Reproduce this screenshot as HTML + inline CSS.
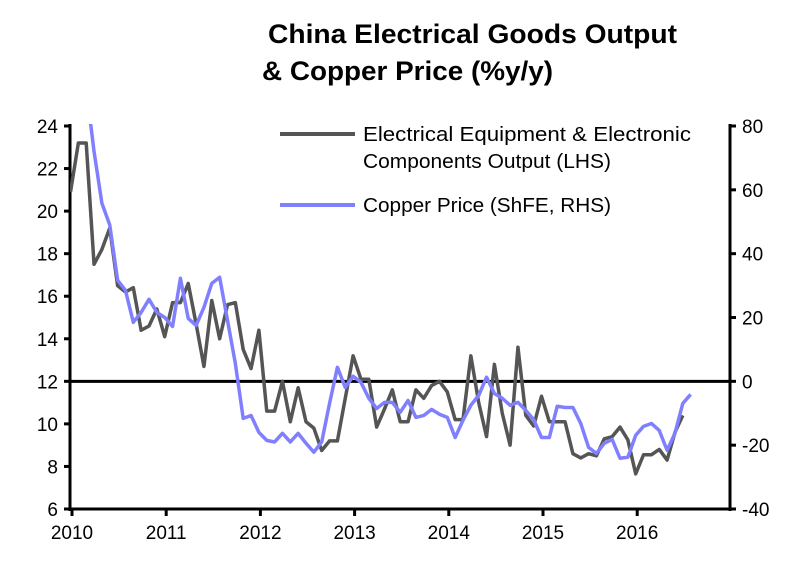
<!DOCTYPE html>
<html><head><meta charset="utf-8"><style>
body{margin:0;background:#fff;width:811px;height:575px;overflow:hidden}
text{font-family:"Liberation Sans",sans-serif}
</style></head><body>
<svg id="chart" width="811" height="575" xmlns="http://www.w3.org/2000/svg">
<text x="268" y="43" font-size="27" font-weight="bold" fill="#000" textLength="409" lengthAdjust="spacingAndGlyphs">China Electrical Goods Output</text>
<text x="262" y="80" font-size="27" font-weight="bold" fill="#000" textLength="291" lengthAdjust="spacingAndGlyphs">&amp; Copper Price (%y/y)</text>
<defs><clipPath id="plotclip"><rect x="70" y="124" width="662" height="387"/></clipPath></defs>
<g id="axes"></g>
<g id="series" clip-path="url(#plotclip)"></g>
<g>
<line x1="280" y1="134" x2="355" y2="134" stroke="#555" stroke-width="4"/>
<text x="363" y="141" font-size="20" textLength="328" lengthAdjust="spacingAndGlyphs">Electrical Equipment &amp; Electronic</text>
<text x="363" y="168" font-size="20" textLength="248" lengthAdjust="spacingAndGlyphs">Components Output (LHS)</text>
<line x1="280" y1="205" x2="355" y2="205" stroke="#8080ff" stroke-width="4"/>
<text x="363" y="212" font-size="20" textLength="248" lengthAdjust="spacingAndGlyphs">Copper Price (ShFE, RHS)</text>
</g>
</svg>
<script>
const years = ["2010","2011","2012","2013","2014","2015","2016"];
const leftTicks = [6,8,10,12,14,16,18,20,22,24];
const rightTicks = [-40,-20,0,20,40,60,80];
const electrical = [20.9,23.2,23.2,17.5,18.2,19.2,16.5,16.2,16.4,14.4,14.6,15.4,14.1,15.7,15.7,16.6,14.7,12.7,15.8,14.0,15.6,15.7,13.5,12.6,14.4,10.6,10.6,12.0,10.1,11.7,10.1,9.8,8.75,9.2,9.2,11.2,13.2,12.1,12.1,9.85,10.7,11.6,10.1,10.1,11.6,11.2,11.8,12.0,11.5,10.2,10.2,13.2,11.0,9.4,12.8,10.5,9.0,13.6,10.4,9.9,11.3,10.1,10.1,10.1,8.6,8.4,8.6,8.5,9.3,9.4,9.85,9.25,7.65,8.55,8.55,8.8,8.3,9.6,10.4];
const copper = [140,115,92,72,55.8,49,31.7,28.5,18.5,21.6,25.7,21.6,20,17.2,32.3,19.7,17.5,23.2,30.7,32.6,19.1,5.6,-11.6,-10.7,-16,-18.5,-19,-16.3,-19,-16.3,-19.4,-22.2,-19,-6.9,4.4,-1.9,1.6,-0.3,-5.3,-8.5,-6.6,-6.6,-9.7,-6,-11.3,-10.7,-8.8,-10.3,-11.3,-17.6,-12.2,-7.5,-4.4,1.3,-3.8,-5.3,-7.5,-6.6,-9.1,-12,-17.6,-17.6,-7.8,-8.2,-8.2,-13.2,-20.7,-22.6,-19.4,-18.2,-24.1,-23.8,-16.9,-14.1,-13.2,-15.4,-21.6,-16.3,-6.9,-4.1];
const NS="http://www.w3.org/2000/svg";
const X0=70.5, DX=7.85, TOP=126, BOT=509, L=70, R=730;
const xm=i=>X0+i*DX;
const yl=v=>BOT-(v-6)/(24-6)*(BOT-TOP);
const yr=v=>BOT-(v+40)/120*(BOT-TOP);
function mk(tag,attrs,parent){const e=document.createElementNS(NS,tag);for(const k in attrs)e.setAttribute(k,attrs[k]);parent.appendChild(e);return e;}
const ax=document.getElementById('axes');
let e=mk('line',{x1:L,y1:TOP-2,x2:L,y2:BOT+2,stroke:'#000','stroke-width':3},ax);


e=mk('line',{x1:R,y1:TOP-2,x2:R,y2:BOT+2,stroke:'#000','stroke-width':3},ax);


e=mk('line',{x1:L,y1:BOT,x2:R,y2:BOT,stroke:'#000','stroke-width':3},ax);


e=mk('line',{x1:L,y1:yr(0),x2:R,y2:yr(0),stroke:'#000','stroke-width':3},ax);


leftTicks.forEach(v=>{
 mk('line',{x1:L-6,y1:yl(v),x2:L,y2:yl(v),stroke:'#000','stroke-width':3},ax);
 const t=mk('text',{x:L-12,y:yl(v)+7,'font-size':19,'text-anchor':'end'},ax);t.textContent=v;
 
 
});
rightTicks.forEach(v=>{
 mk('line',{x1:R,y1:yr(v),x2:R+6,y2:yr(v),stroke:'#000','stroke-width':3},ax);
 const t=mk('text',{x:R+12,y:yr(v)+7,'font-size':19},ax);t.textContent=v;
 
 
});
years.forEach((y,i)=>{
 const x=72+i*94.2;
 mk('line',{x1:x,y1:BOT,x2:x,y2:BOT+7,stroke:'#000','stroke-width':3},ax);
 const t=mk('text',{x:x,y:BOT+30,'font-size':19,'text-anchor':'middle'},ax);t.textContent=y;
 
 
});
const sg=document.getElementById('series');
const p1=mk('polyline',{points:electrical.map((v,i)=>xm(i)+','+yl(v)).join(' '),fill:'none',stroke:'#555','stroke-width':3.5,'stroke-linejoin':'round'},sg);


const p2=mk('polyline',{points:copper.map((v,i)=>xm(i)+','+yr(v)).join(' '),fill:'none',stroke:'#8080ff','stroke-width':3.5,'stroke-linejoin':'round'},sg);


</script>
</body></html>
